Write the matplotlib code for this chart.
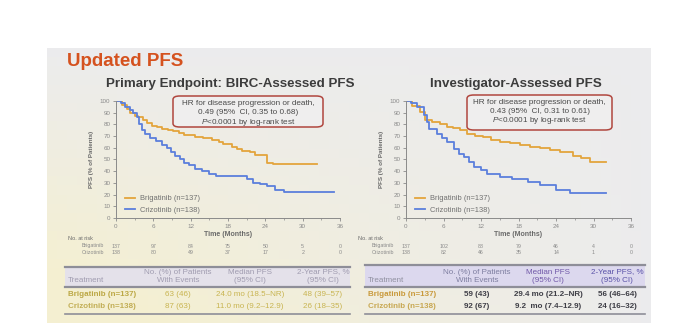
import numpy as np
import matplotlib
matplotlib.use("Agg")
import matplotlib.pyplot as plt
from matplotlib.patches import FancyBboxPatch, Rectangle
from matplotlib.lines import Line2D

plt.rcParams['font.family'] = ['Liberation Sans', 'DejaVu Sans']
plt.rcParams['mathtext.fontset'] = 'custom'
plt.rcParams['mathtext.it'] = 'Liberation Sans:italic'
plt.rcParams['mathtext.rm'] = 'Liberation Sans'

W, H = 693, 333

# ---- data ----
months = [0, 6, 12, 18, 24, 30, 36]

birc_brig_t = [0, 1.0, 1.7, 2.3, 3.0, 3.6, 4.3, 5.0, 5.8, 6.6, 7.4, 8.3, 9.2, 10.2, 11.0,
               12.7, 14.0, 15.4, 16.5, 17.2, 18.7, 19.5, 20.3, 21.5, 22.4, 24.2, 25.2, 32.3]
birc_brig_s = [100, 97, 93, 90, 87, 86, 84, 81, 79, 78, 76, 75, 74, 73, 71,
               69, 68, 67, 65, 63, 61, 59, 57, 56, 54, 47, 46, 46]
birc_criz_t = [0, 0.8, 1.5, 2.2, 2.8, 3.3, 3.7, 4.1, 4.7, 5.5, 6.5, 7.4, 8.2, 8.9, 9.5,
               10.3, 11.0, 11.8, 12.7, 13.8, 15.0, 16.0, 21.0, 22.0, 23.2, 24.2, 25.6, 27.0, 35.0]
birc_criz_s = [100, 98, 95, 92, 90, 86, 80, 75, 72, 68, 66, 62, 60, 56, 53,
               50, 47, 45, 42, 40, 38, 36, 33, 30, 29, 27, 24, 22, 22]

inv_brig_t = [0, 1.0, 2.2, 3.0, 4.2, 5.4, 6.5, 7.5, 8.6, 9.7, 11.0, 12.3, 13.6, 15.0,
              16.6, 18.2, 19.8, 21.4, 23.0, 24.6, 26.7, 28.0, 29.4, 32.0]
inv_brig_s = [100, 96, 91, 84, 82, 80, 78, 77, 75, 72, 70, 69, 67, 65,
              64, 62, 61, 60, 58, 56, 53, 51, 48, 48]
inv_criz_t = [0, 0.8, 1.7, 2.8, 3.3, 3.6, 4.9, 5.7, 6.5, 7.6, 8.4, 9.2, 10.0, 10.8,
              12.0, 13.0, 15.0, 17.0, 19.5, 21.4, 24.0, 26.2, 32.0]
inv_criz_s = [100, 98, 95, 88, 82, 76, 72, 68, 65, 59, 55, 52, 48, 44,
              41, 38, 35, 33, 31, 28, 24, 21, 21]

birc_risk_brig = ['137', '97', '84', '75', '50', '5', '0']
birc_risk_criz = ['138', '80', '49', '37', '17', '2', '0']
inv_risk_brig = ['137', '102', '88', '79', '46', '4', '0']
inv_risk_criz = ['138', '82', '46', '35', '14', '1', '0']

birc_hr = ["HR for disease progression or death,", "0.49 (95%  CI, 0.35 to 0.68)",
           r"$\it{P}$<0.0001 by log-rank test"]
inv_hr = ["HR for disease progression or death,", "0.43 (95%  CI, 0.31 to 0.61)",
          r"$\it{P}$<0.0001 by log-rank test"]

tab_header = [["", "No. (%) of Patients", "Median PFS", "2-Year PFS, %"],
              ["Treatment", "With Events", "(95% CI)", "(95% CI)"]]
birc_rows = [["Brigatinib (n=137)", "63 (46)", "24.0 mo (18.5\u2013NR)", "48 (39\u201357)"],
             ["Crizotinib (n=138)", "87 (63)", "11.0 mo (9.2\u201312.9)", "26 (18\u201335)"]]
inv_rows = [["Brigatinib (n=137)", "59 (43)", "29.4 mo (21.2\u2013NR)", "56 (46\u201364)"],
            ["Crizotinib (n=138)", "92 (67)", "9.2  mo (7.4\u201312.9)", "24 (16\u201332)"]]

C_BRIG = "#e3a43c"
C_CRIZ = "#5b7fdc"


def fx(x):
    return x / W


def fy(y):
    return 1 - y / H


fig = plt.figure(figsize=(W / 100, H / 100), dpi=100)
fig.patch.set_facecolor("white")

# slide background with a faint warm tint at bottom-left
bg = fig.add_axes([fx(47), fy(323), fx(651 - 47), (323 - 48) / H])
gx, gy = np.meshgrid(np.linspace(0, 1, 60), np.linspace(0, 1, 30))
warm = np.clip((1 - gx) * gy * 1.2, 0, 1)
base = np.array([0.925, 0.925, 0.93])
tint = np.array([0.96, 0.94, 0.82])
img = base[None, None, :] * (1 - warm[..., None]) + tint[None, None, :] * warm[..., None]
bg.imshow(img, aspect="auto", extent=[0, 1, 0, 1], origin="upper")
bg.set_axis_off()

fig.text(fx(67), fy(61), "Updated PFS", color="#d5521f", fontsize=13.5, fontweight="bold",
         va="center", ha="left")
fig.text(fx(230), fy(84), "Primary Endpoint: BIRC-Assessed PFS", color="#3c3c3c",
         fontsize=9.6, fontweight="bold", ha="center", va="center")
fig.text(fx(516), fy(84), "Investigator-Assessed PFS", color="#3c3c3c",
         fontsize=9.6, fontweight="bold", ha="center", va="center")


def km_panel(x0, x1, brig_t, brig_s, criz_t, criz_s, hr_lines, box, risk_b, risk_c):
    y_top, y_bot = 101, 218
    ax = fig.add_axes([fx(x0), fy(y_bot), fx(x1 - x0), (y_bot - y_top) / H])
    ax.patch.set_alpha(0)
    ax.step(brig_t, brig_s, where="post", color=C_BRIG, lw=1.3, label="Brigatinib (n=137)")
    ax.step(criz_t, criz_s, where="post", color=C_CRIZ, lw=1.3, label="Crizotinib (n=138)")
    ax.set_xlim(0, 36)
    ax.set_ylim(0, 100)
    ax.set_xticks(months)
    ax.set_yticks(range(0, 101, 10))
    for s in ("top", "right"):
        ax.spines[s].set_visible(False)
    for s in ("left", "bottom"):
        ax.spines[s].set_color("#8a8a8a")
        ax.spines[s].set_linewidth(0.7)
    ax.tick_params(labelsize=4.5, colors="#8a8a8a", length=2, width=0.6, pad=2)
    ax.xaxis.set_minor_locator(plt.MultipleLocator(3))
    ax.tick_params(which="minor", length=1.5, width=0.5, colors="#8a8a8a")
    ax.set_xlabel("Time (Months)", fontsize=5, color="#6a6a6a", fontweight="bold", labelpad=2)
    ax.set_ylabel("PFS (% of Patients)", fontsize=4.5, color="#6a6a6a", fontweight="bold",
                  labelpad=4)
    leg = ax.legend(loc="lower left", bbox_to_anchor=(0.01, -0.02), frameon=False,
                    fontsize=5.4, handlelength=1.3, handletextpad=0.7, labelspacing=0.55)
    for t in leg.get_texts():
        t.set_color("#707070")

    bx0, by0, bx1, by1 = box
    patch = FancyBboxPatch(((bx0 - x0) / (x1 - x0), (y_bot - by1) / (y_bot - y_top)),
                           (bx1 - bx0) / (x1 - x0), (by1 - by0) / (y_bot - y_top),
                           boxstyle="round,pad=0,rounding_size=0.03", transform=ax.transAxes,
                           facecolor="#efeeee", edgecolor="#b0463e", lw=1.1, clip_on=False)
    ax.add_patch(patch)
    cx = ((bx0 + bx1) / 2 - x0) / (x1 - x0)
    for i, line in enumerate(hr_lines):
        yy = (y_bot - (by0 + 8 + i * 9)) / (y_bot - y_top)
        ax.text(cx, yy, line, transform=ax.transAxes, ha="center", va="center",
                fontsize=5.9, color="#4a4a4a")

    tr = ax.get_xaxis_transform()
    hgt = y_bot - y_top
    px_per_m = (x1 - x0) / 36
    ax.text(-48 / px_per_m, -(238 - y_bot) / hgt, "No. at risk", transform=tr,
            fontsize=4, color="#6a6a6a", ha="left", va="center", clip_on=False)
    for label, risk, yy in (("Brigatinib", risk_b, 246), ("Crizotinib", risk_c, 252)):
        ax.text(-1.9, -(yy - y_bot) / hgt, label, transform=tr, fontsize=3.8,
                color="#8a8a8a", ha="right", va="center", clip_on=False)
        for m, v in zip(months, risk):
            ax.text(m, -(yy - y_bot) / hgt, v, transform=tr, fontsize=3.8,
                    color="#8a8a8a", ha="center", va="center", clip_on=False)
    return ax


km_panel(116, 340, birc_brig_t, birc_brig_s, birc_criz_t, birc_criz_s, birc_hr,
         (173, 96, 323, 127), birc_risk_brig, birc_risk_criz)
km_panel(406, 631, inv_brig_t, inv_brig_s, inv_criz_t, inv_criz_s, inv_hr,
         (467, 95, 612, 130), inv_risk_brig, inv_risk_criz)


def table(x0, x1, top, col_x, rows, band_col, head_cols, row_cols, val_col, bold_vals):
    fig.add_artist(Rectangle((fx(x0), fy(287)), fx(x1 - x0), (287 - top) / H,
                             facecolor=band_col, edgecolor="none"))
    for yy, lw in ((top, 1.6), (287, 1.6), (314, 1.2)):
        fig.add_artist(Line2D([fx(x0), fx(x1)], [fy(yy), fy(yy)], color="#8e8e98", lw=lw))
    for r, hy in enumerate((272, 281)):
        for c, txt in enumerate(tab_header[r]):
            if c == 0:
                fig.text(fx(col_x[0]), fy(hy), txt, fontsize=5.8, color=head_cols[0],
                         ha="left", va="center")
            else:
                fig.text(fx(col_x[c]), fy(hy), txt, fontsize=5.8, color=head_cols[c],
                         ha="center", va="center")
    for r, (row, ry) in enumerate(zip(rows, (294, 306))):
        fig.text(fx(col_x[0]), fy(ry), row[0], fontsize=5.8, color=row_cols[r],
                 fontweight="bold", ha="left", va="center")
        for c in range(1, 4):
            fig.text(fx(col_x[c]), fy(ry), row[c], fontsize=5.8, color=val_col,
                     fontweight="bold" if bold_vals else "normal", ha="center", va="center")


table(65, 350, 267, [68, 178, 250, 323], birc_rows, "#e4e1ea",
      ["#a09cb0", "#a09cb0", "#a09cb0", "#a09cb0"], ["#bca845", "#c2ae55"], "#c8b450", False)
table(365, 645, 265, [368, 477, 548, 617], inv_rows, "#dcd8ee",
      ["#9090a0", "#7e7ea0", "#7058a8", "#5a52a8"], ["#c99a3c", "#c8a852"], "#3e3e46", True)

fig.savefig("out.png", dpi=100, facecolor="white")
